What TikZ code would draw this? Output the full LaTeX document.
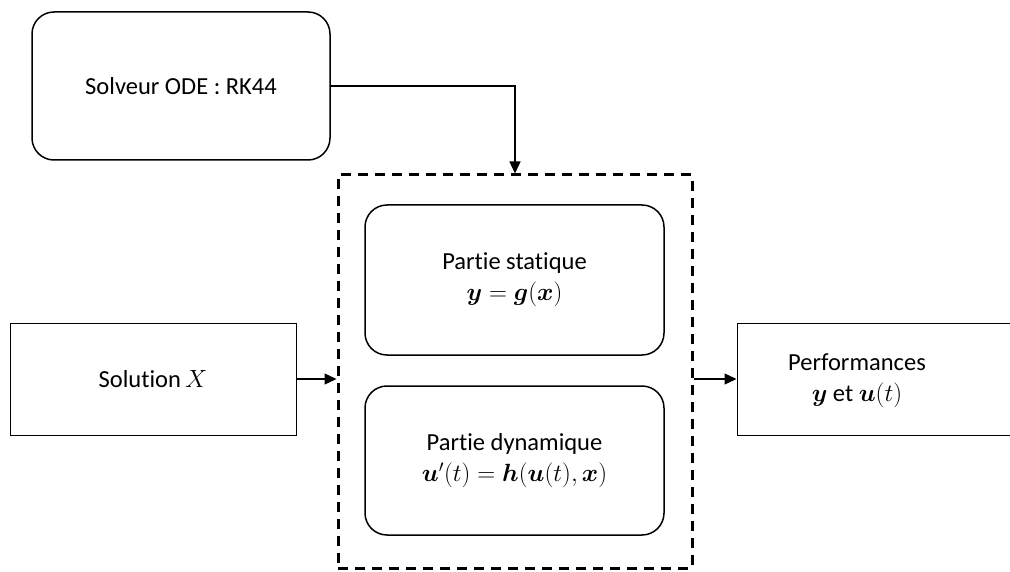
\documentclass[tikz,border=0pt]{standalone}
\usepackage{amsmath}
\usepackage{fontspec}
\setmainfont{Carlito}[Ligatures=NoCommon]
\usetikzlibrary{arrows.meta}
\tikzset{
  rbox/.style={draw, line width=1.5pt, rounded corners=22pt, align=center, font=\fontsize{24.5}{31}\selectfont, inner sep=0pt},
  sbox/.style={draw, line width=1pt, align=center, font=\fontsize{24.5}{31}\selectfont, inner sep=0pt},
  dbox/.style={draw, line width=3pt, dash pattern=on 10pt off 7pt, inner sep=0pt},
  txt/.style={align=center, font=\fontsize{24.5}{31}\selectfont, inner sep=0pt},
  arr/.style={line width=1.3pt, -{Triangle[length=12pt,width=11pt]}},
}
\begin{document}
\begin{tikzpicture}[x=1pt,y=-1pt]
\useasboundingbox (0,0) rectangle (1010,572);
\clip (0,0) rectangle (1010,572);
\node[rbox, minimum width=298pt, minimum height=148pt] (solveur) at (181,86) {Solveur ODE : RK44};
\node[dbox, minimum width=354pt, minimum height=393pt] (dash) at (515,371.5) {};
\node[rbox, minimum width=299pt, minimum height=150pt] (stat) at (514.5,280) {Partie statique\\ $\boldsymbol{y}=\boldsymbol{g}(\boldsymbol{x})$};
\node[rbox, minimum width=299pt, minimum height=149pt] (dyn) at (514.5,460.5) {Partie dynamique\\ $\boldsymbol{u}'(t)=\boldsymbol{h}(\boldsymbol{u}(t),\boldsymbol{x})$};
\node[sbox, minimum width=286pt, minimum height=112pt] (sol) at (153,379) {Solution$\,X$};
\node[sbox, minimum width=283pt, minimum height=112pt] (perf) at (878.5,379) {};
\node[txt] (perftxt) at (857,381) {Performances\\ $\boldsymbol{y}$ et $\boldsymbol{u}(t)$};
\draw[arr] (solveur.east) -| (dash.north);
\draw[arr] (sol.east) -- (sol.east -| dash.west);
\draw[arr] (perf.west -| dash.east) -- (perf.west);
\end{tikzpicture}
\end{document}
